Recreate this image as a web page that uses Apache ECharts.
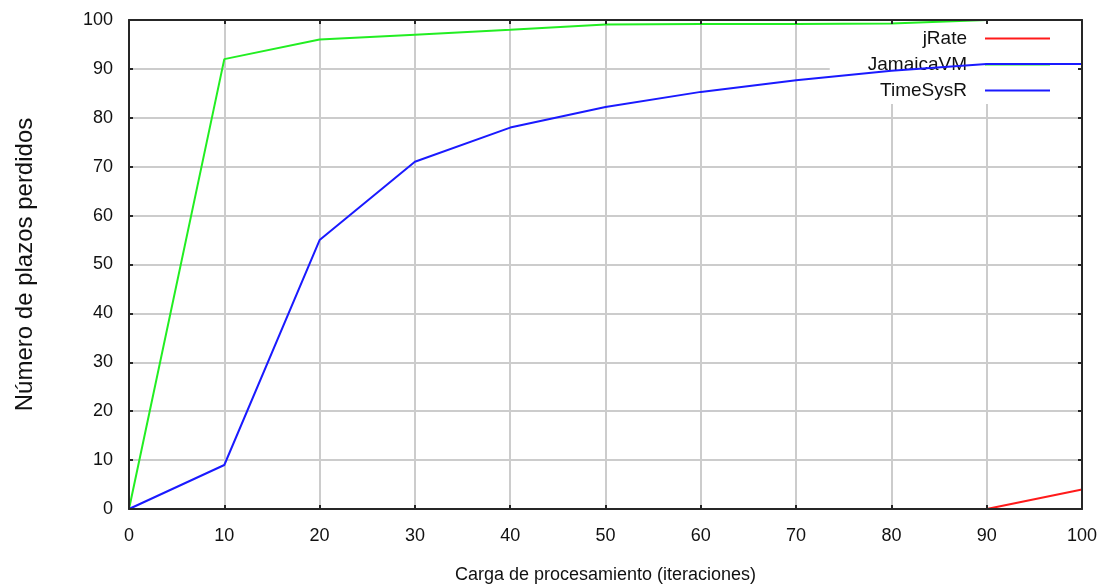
<!DOCTYPE html>
<html>
<head>
<meta charset="utf-8">
<script src="https://cdn.jsdelivr.net/npm/echarts@6/dist/echarts.min.js"></script>
<style>
  html, body { margin: 0; padding: 0; background: #ffffff; }
  #chart { width: 1105px; height: 585px; }
</style>
</head>
<body>
<div id="chart"></div>
<script>
// Processing load (iterations) on the x axis
const loads = [0, 10, 20, 30, 40, 50, 60, 70, 80, 90, 100];
// Missed deadlines per virtual machine
const jRate     = [0, 0, 0, 0, 0, 0, 0, 0, 0, 0, 4];
const jamaicaVM = [0, 92, 96, 97, 98, 99.1, 99.2, 99.2, 99.3, 100, 100];
const timeSysR  = [0, 9, 55, 71, 78, 82.2, 85.3, 87.7, 89.6, 91, 91];
const tickMin = 0, tickMax = 100, tickStep = 10;

const FONT = 'Liberation Sans, Arial, sans-serif';
const pairs = ys => loads.map((x, i) => [x, ys[i]]);

// Frame axis: black border line with inward ticks, drawn above the lines
function frameAxis(position) {
  return {
    type: 'value', position: position,
    min: tickMin, max: tickMax, interval: tickStep,
    z: 5,
    axisLine: { show: true, onZero: false, lineStyle: { color: '#262626', width: 2 } },
    axisTick: { show: true, inside: true, length: 4, lineStyle: { color: '#262626', width: 2 } },
    axisLabel: { show: false },
    splitLine: { show: false }
  };
}

const chart = echarts.init(document.getElementById('chart'), null, { renderer: 'canvas' });
chart.setOption({
  backgroundColor: '#ffffff',
  animation: false,
  grid: { left: 129, right: 23, top: 20, bottom: 76, containLabel: false, outerBoundsMode: 'none' },
  legend: {
    orient: 'vertical', right: 23, top: 20, z: 1,
    align: 'right',
    icon: 'rect',
    backgroundColor: '#ffffff',
    padding: [9, 32, 4, 38],
    itemWidth: 65, itemHeight: 2, itemGap: 7,
    textStyle: { fontFamily: FONT, fontSize: 19, color: '#111111', padding: [0, 13, 0, 0] },
    data: ['jRate', 'JamaicaVM', 'TimeSysR']
  },
  xAxis: [
    {
      type: 'value', position: 'bottom',
      min: tickMin, max: tickMax, interval: tickStep,
      name: 'Carga de procesamiento (iteraciones)',
      nameLocation: 'middle', nameGap: 57,
      nameTextStyle: { fontFamily: FONT, fontSize: 18, color: '#111111' },
      axisLine: { show: false },
      axisTick: { show: false },
      axisLabel: { fontFamily: FONT, fontSize: 18, color: '#111111', margin: 18 },
      splitLine: { show: true, lineStyle: { color: '#cccccc', width: 2 } }
    },
    frameAxis('bottom'),
    frameAxis('top')
  ],
  yAxis: [
    {
      type: 'value', position: 'left',
      min: tickMin, max: tickMax, interval: tickStep,
      name: 'Número de plazos perdidos',
      nameLocation: 'middle', nameGap: 92,
      nameTextStyle: { fontFamily: FONT, fontSize: 24, color: '#111111' },
      axisLine: { show: false },
      axisTick: { show: false },
      axisLabel: { fontFamily: FONT, fontSize: 18, color: '#111111', margin: 16 },
      splitLine: { show: true, lineStyle: { color: '#cccccc', width: 2 } }
    },
    frameAxis('left'),
    frameAxis('right')
  ],
  series: [
    {
      name: 'jRate', type: 'line', data: pairs(jRate),
      symbol: 'none', z: 2,
      lineStyle: { color: '#ff1a1a', width: 2 }, itemStyle: { color: '#ff1a1a' }
    },
    {
      name: 'JamaicaVM', type: 'line', data: pairs(jamaicaVM),
      symbol: 'none', z: 2,
      lineStyle: { color: '#22ee22', width: 2 }, itemStyle: { color: '#22ee22' }
    },
    {
      name: 'TimeSysR', type: 'line', data: pairs(timeSysR),
      symbol: 'none', z: 3,
      lineStyle: { color: '#1a1aff', width: 2 }, itemStyle: { color: '#1a1aff' }
    }
  ]
});
</script>
</body>
</html>
